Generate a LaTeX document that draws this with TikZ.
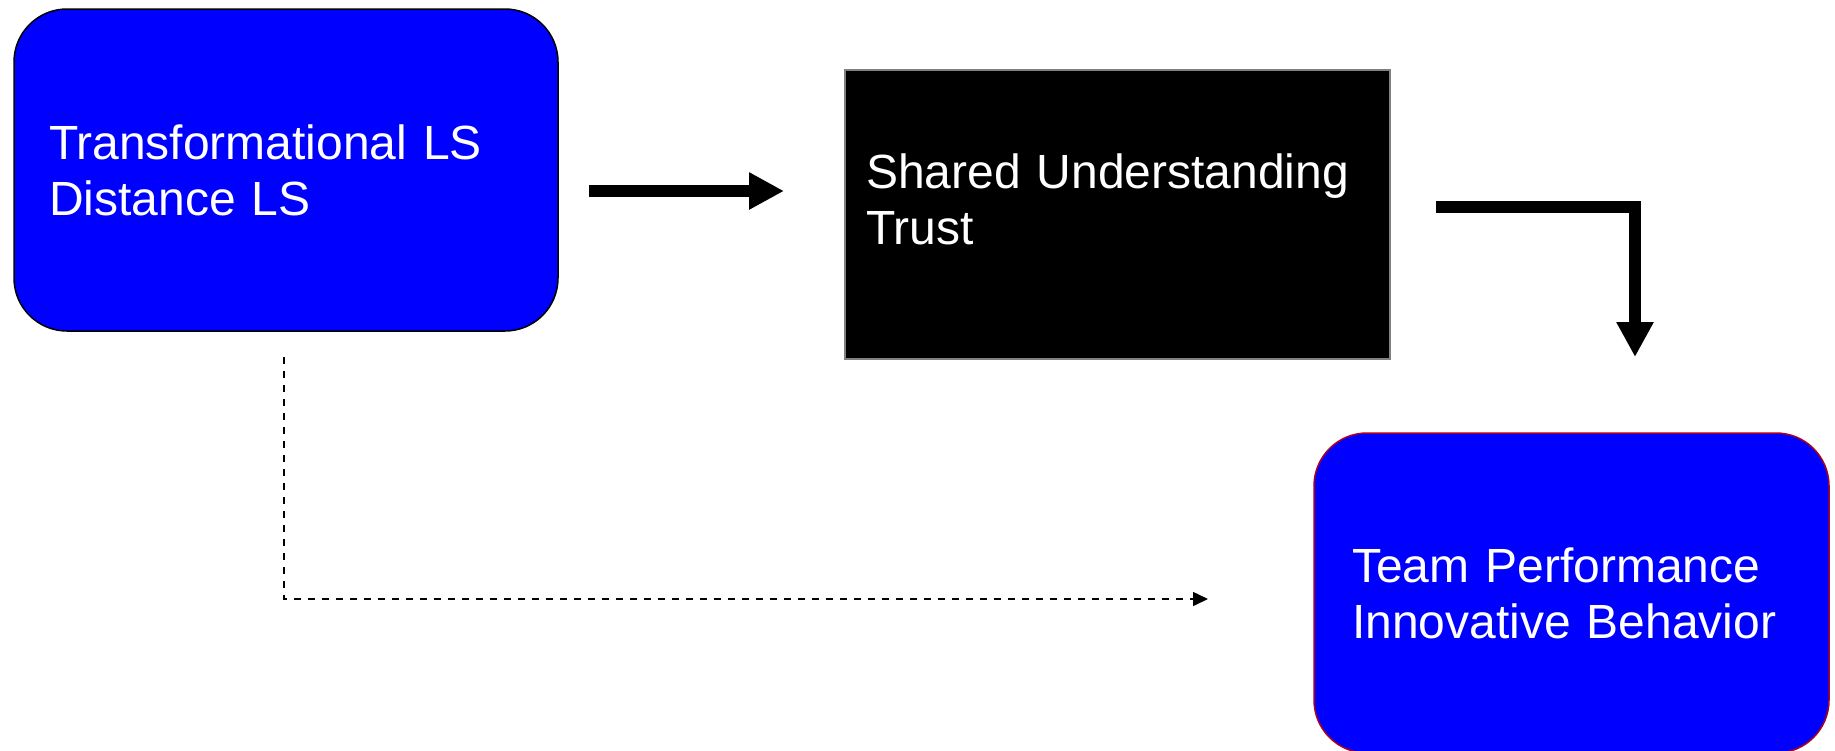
\documentclass[tikz,border=0pt]{standalone}
\usepackage{fontspec}
\setmainfont{Liberation Sans}
\usetikzlibrary{arrows.meta}
\definecolor{boxblue}{RGB}{0,0,255}
\definecolor{rimred}{RGB}{170,0,30}
\begin{document}
\begin{tikzpicture}
      [x=0.5pt, y=-0.5pt,
       box/.style={align=left, text=white, font=\fontsize{24}{28}\selectfont, line width=0.75pt},
       fat arrow/.style={line width=5.75pt, -{Triangle[length=17.5pt,width=17.5pt]}},
       dash arrow/.style={line width=0.75pt, dash pattern=on 3.5pt off 3.5pt, -{Triangle[length=7.5pt,width=7pt]}}]
      \useasboundingbox (0,0) rectangle (1835,750);
      \node[box, fill=boxblue, draw=black, rounded corners=26.5pt, minimum width=272pt, minimum height=161pt, text width=237pt, inner xsep=17.5pt](lead) at (286,170) {Transformational LS\\Distance LS};
      \node[box, fill=black, draw=gray, minimum width=272.5pt, minimum height=144.5pt, text width=251.5pt, inner xsep=10.5pt](share) at (1117.5,214.5) {Shared Understanding\\Trust\\[-13pt]\mbox{}};
      \node[box, fill=boxblue, draw=rimred, rounded corners=26.5pt, minimum width=257.5pt, minimum height=160pt, text width=219.5pt, inner xsep=19pt](perf) at (1571.5,593) {Team Performance\\Innovative Behavior};
      \coordinate(a1) at (589,191);
      \coordinate(a2) at (784,191);
      \coordinate(b1) at (1436,207);
      \coordinate(b2) at (1635,357);
      \coordinate(c1) at (284,357);
      \coordinate(c2) at (1208,599);
      \draw[fat arrow](a1) -- (a2);
      \draw[fat arrow](b1) -| (b2);
      \draw[dash arrow](c1) |- (c2);
  \end{tikzpicture}
\end{document}
